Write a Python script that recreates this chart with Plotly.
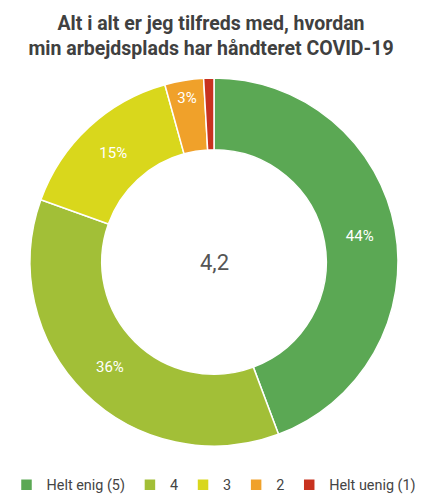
import plotly.graph_objects as go

labels = ["Helt enig (5)", "4", "3", "2", "Helt uenig (1)"]
values = [44.3, 36.2, 15.2, 3.4, 0.9]
colors = ["#5ba854", "#a2bf37", "#d9d71c", "#f0a12a", "#c8321f"]
center_value = "4,2"
title_text = "Alt i alt er jeg tilfreds med, hvordan<br>min arbejdsplads har håndteret COVID-19"

text_labels = [f"{round(v)}%" if v >= 2 else "" for v in values]

fig = go.Figure(go.Pie(
    labels=labels,
    values=values,
    text=text_labels,
    textinfo="text",
    hole=0.61,
    sort=False,
    direction="clockwise",
    rotation=0,
    marker=dict(colors=colors, line=dict(color="white", width=1.5)),
    textposition="inside",
    insidetextorientation="horizontal",
    textfont=dict(family="Roboto", size=15, color="white"),
    hoverinfo="label+percent",
))

fig.add_annotation(
    text=center_value, x=0.5, y=0.5, xref="paper", yref="paper",
    showarrow=False, font=dict(family="Roboto", size=22, color="#555555"),
)

fig.update_layout(
    width=422, height=496,
    paper_bgcolor="white", plot_bgcolor="white",
    margin=dict(l=6, r=0, t=78, b=50, autoexpand=False),
    title=dict(text=title_text, x=0.5, xanchor="center", y=1 - 30 / 496,
               yanchor="middle", yref="container",
               font=dict(family="Roboto", size=19.5, color="#404040", weight="bold")),
    legend=dict(orientation="h", x=0.5, xanchor="center", y=-0.106, yanchor="middle",
                font=dict(family="Roboto", size=14.4, color="#444444"),
                itemwidth=30, tracegroupgap=0),
    showlegend=True,
)

fig.write_html("out.html", config={"displayModeBar": False},
               post_script="document.body.style.margin='0';")
